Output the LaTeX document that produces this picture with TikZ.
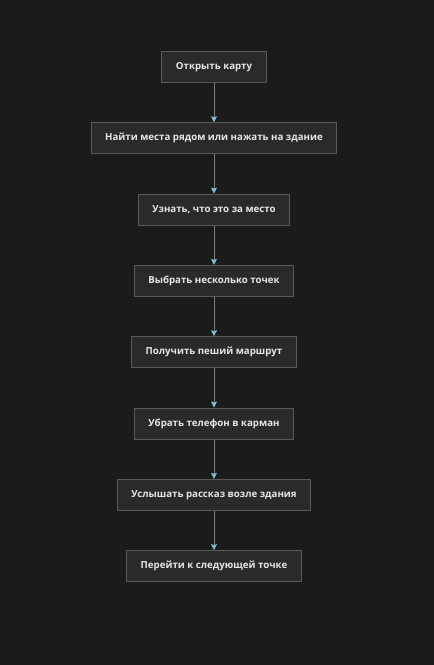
\documentclass[tikz,border=0pt]{standalone}
\usepackage{fontspec}
\setmainfont{Open Sans}
\usepackage{xcolor}
\usepackage{tikz}
\usetikzlibrary{arrows.meta, positioning}

\definecolor{achtergrond}{HTML}{1B1B1B}
\definecolor{vulkleur}{HTML}{2A2A2A}
\definecolor{randkleur}{HTML}{5A5A5A}
\definecolor{tekstkleur}{HTML}{E6E6E6}
\definecolor{lijnkleur}{HTML}{7E7E7E}
\definecolor{pijlkleur}{HTML}{7DBFD3}

\begin{document}
\begin{tikzpicture}[x=1pt, y=1pt, node distance=71.3pt]
        % stijlen
        \tikzstyle{stap} = [rectangle, minimum height=31pt, inner xsep=14pt, text centered, draw=randkleur, line width=1pt, fill=vulkleur, text=tekstkleur, font=\fontsize{9.7}{11}\selectfont\bfseries]
        \tikzstyle{pijl} = [draw=lijnkleur, line width=0.8pt, -{Stealth[length=6pt, width=6pt, inset=1pt, color=pijlkleur]}]

        % achtergrond
        \fill[achtergrond] (-214,67) rectangle (220,-598);
        \useasboundingbox (-214,67) rectangle (220,-598);

        % knopen
        \node (kaart) [stap] {Открыть карту};
        \node (zoek) [stap, below of=kaart] {Найти места рядом или нажать на здание};
        \node (info) [stap, below of=zoek] {Узнать, что это за место};
        \node (punten) [stap, below of=info] {Выбрать несколько точек};
        \node (route) [stap, below of=punten] {Получить пеший маршрут};
        \node (zak) [stap, below of=route] {Убрать телефон в карман};
        \node (verhaal) [stap, below of=zak] {Услышать рассказ возле здания};
        \node (volgende) [stap, below of=verhaal] {Перейти к следующей точке};

        % pijlen
        \draw [pijl] (kaart) -- (zoek);
        \draw [pijl] (zoek) -- (info);
        \draw [pijl] (info) -- (punten);
        \draw [pijl] (punten) -- (route);
        \draw [pijl] (route) -- (zak);
        \draw [pijl] (zak) -- (verhaal);
        \draw [pijl] (verhaal) -- (volgende);

\end{tikzpicture}
\end{document}
